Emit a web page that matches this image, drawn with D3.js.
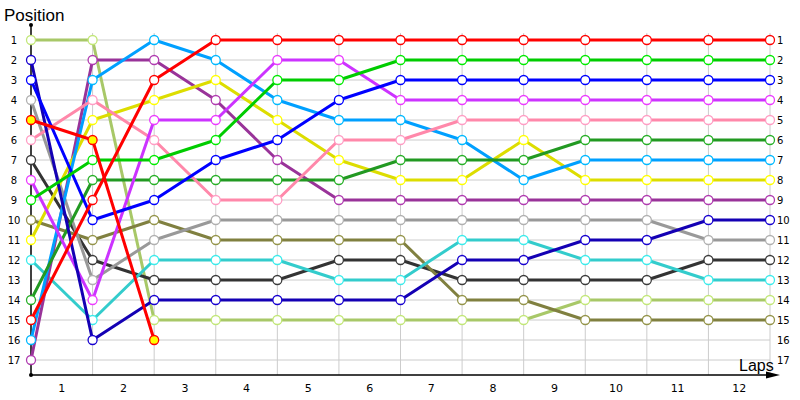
<!DOCTYPE html>
<html>
<head>
<meta charset="utf-8">
<script src="https://cdn.jsdelivr.net/npm/d3@7"></script>
<style>
  body { margin: 0; background: #fff; }
  svg { font-family: "DejaVu Sans", Verdana, sans-serif; }
</style>
</head>
<body>
<svg id="chart" width="800" height="400"></svg>
<script>
// lap 0 = grid position, then position at end of each lap
const lapLabels = ['1', '2', '3', '4', '5', '6', '7', '8', '9', '10', '11', '12'];
const positionTicks = d3.range(1, 18);

const driverColours = ['#a8c868', '#333333', '#808040', '#33cccc', '#999999', '#993399', '#dddd00',
  '#00a0ff', '#229922', '#ff88aa', '#cc33ff', '#1400b4', '#0000ff', '#00cc00', '#ff0000', '#ff0000'];
const markerFills = ['#fff', '#fff', '#fff', '#fff', '#fff', '#fff', '#fff',
  '#fff', '#fff', '#fff', '#fff', '#fff', '#fff', '#fff', '#ffff00', '#fff'];

const lightOlive = [1, 1, 15, 15, 15, 15, 15, 15, 15, 14, 14, 14, 14];
const charcoal   = [7, 12, 13, 13, 13, 12, 12, 13, 13, 13, 13, 12, 12];
const olive      = [10, 11, 10, 11, 11, 11, 11, 14, 14, 15, 15, 15, 15];
const cyan       = [12, 15, 12, 12, 12, 13, 13, 11, 11, 12, 12, 13, 13];
const grey       = [4, 13, 11, 10, 10, 10, 10, 10, 10, 10, 10, 11, 11];
const plum       = [17, 2, 2, 4, 7, 9, 9, 9, 9, 9, 9, 9, 9];
const yellow     = [11, 5, 4, 3, 5, 7, 8, 8, 6, 8, 8, 8, 8];
const skyBlue    = [16, 3, 1, 2, 4, 5, 5, 6, 8, 7, 7, 7, 7];
const forest     = [14, 8, 8, 8, 8, 8, 7, 7, 7, 6, 6, 6, 6];
const pink       = [6, 4, 6, 9, 9, 6, 6, 5, 5, 5, 5, 5, 5];
const violet     = [8, 14, 5, 5, 2, 2, 4, 4, 4, 4, 4, 4, 4];
const navy       = [2, 16, 14, 14, 14, 14, 14, 12, 12, 11, 11, 10, 10];
const blue       = [3, 10, 9, 7, 6, 4, 3, 3, 3, 3, 3, 3, 3];
const green      = [9, 7, 7, 6, 3, 3, 2, 2, 2, 2, 2, 2, 2];
const redRetired = [5, 6, 16];
const red        = [15, 9, 3, 1, 1, 1, 1, 1, 1, 1, 1, 1, 1];

const series = [lightOlive, charcoal, olive, cyan, grey, plum, yellow, skyBlue,
  forest, pink, violet, navy, blue, green, redRetired, red];

const svg = d3.select('#chart');
const x = d3.scaleLinear().domain([0, 12]).range([31, 770]);
const y = d3.scaleLinear().domain([1, 17]).range([40, 360]);
const axisY = 375;

// grid
svg.append('g')
  .selectAll('line')
  .data(positionTicks)
  .join('line')
  .attr('x1', x(0)).attr('x2', x(12))
  .attr('y1', d => y(d)).attr('y2', d => y(d))
  .attr('stroke', '#cccccc').attr('stroke-width', 1);

svg.append('g')
  .selectAll('line')
  .data(d3.range(1, 13))
  .join('line')
  .attr('x1', d => x(d)).attr('x2', d => x(d))
  .attr('y1', 33).attr('y2', axisY)
  .attr('stroke', '#cccccc').attr('stroke-width', 1);

// axes
svg.append('line')
  .attr('x1', x(0)).attr('x2', x(0)).attr('y1', 25).attr('y2', axisY)
  .attr('stroke', '#000').attr('stroke-width', 1.5);
svg.append('circle').attr('cx', x(0)).attr('cy', 25).attr('r', 2).attr('fill', '#000');
svg.append('circle').attr('cx', x(0)).attr('cy', axisY).attr('r', 2).attr('fill', '#000');
svg.append('line')
  .attr('x1', x(0)).attr('x2', 770).attr('y1', axisY).attr('y2', axisY)
  .attr('stroke', '#000').attr('stroke-width', 1.5);
svg.append('path')
  .attr('d', `M766,${axisY - 3.5}L780,${axisY}L766,${axisY + 3.5}Z`)
  .attr('fill', '#000');

svg.append('text').attr('x', 4).attr('y', 21)
  .attr('font-family', '"Liberation Sans", Arial, sans-serif')
  .attr('font-size', 17).attr('fill', '#000').text('Position');
svg.append('text').attr('x', 739).attr('y', 371)
  .attr('font-family', '"Liberation Sans", Arial, sans-serif')
  .attr('font-size', 16).attr('fill', '#000').text('Laps');

// tick labels
svg.append('g')
  .selectAll('text')
  .data(positionTicks)
  .join('text')
  .attr('x', 14).attr('y', d => y(d) + 4)
  .attr('text-anchor', 'middle')
  .attr('font-size', 10).attr('fill', '#000')
  .text(d => d);

svg.append('g')
  .selectAll('text')
  .data(positionTicks)
  .join('text')
  .attr('x', x(12) + 7).attr('y', d => y(d) + 4)
  .attr('font-size', 10).attr('fill', '#000')
  .text(d => d);

svg.append('g')
  .selectAll('text')
  .data(lapLabels)
  .join('text')
  .attr('x', (d, i) => x(i + 0.5)).attr('y', 392)
  .attr('text-anchor', 'middle')
  .attr('font-size', 11).attr('fill', '#000')
  .text(d => d);

// driver lines
const line = d3.line().x((d, i) => x(i)).y(d => y(d));

const drivers = svg.append('g')
  .selectAll('g')
  .data(series)
  .join('g');

drivers.append('path')
  .attr('d', d => line(d))
  .attr('fill', 'none')
  .attr('stroke', (d, i) => driverColours[i])
  .attr('stroke-width', 3)
  .attr('stroke-linejoin', 'round');

drivers.each(function(d, i) {
  d3.select(this).selectAll('circle')
    .data(d)
    .join('circle')
    .attr('cx', (p, j) => x(j))
    .attr('cy', p => y(p))
    .attr('r', 4.5)
    .attr('fill', markerFills[i])
    .attr('stroke', d3.color(driverColours[i]).brighter(0.4))
    .attr('stroke-width', 1.3);
});
</script>
</body>
</html>
